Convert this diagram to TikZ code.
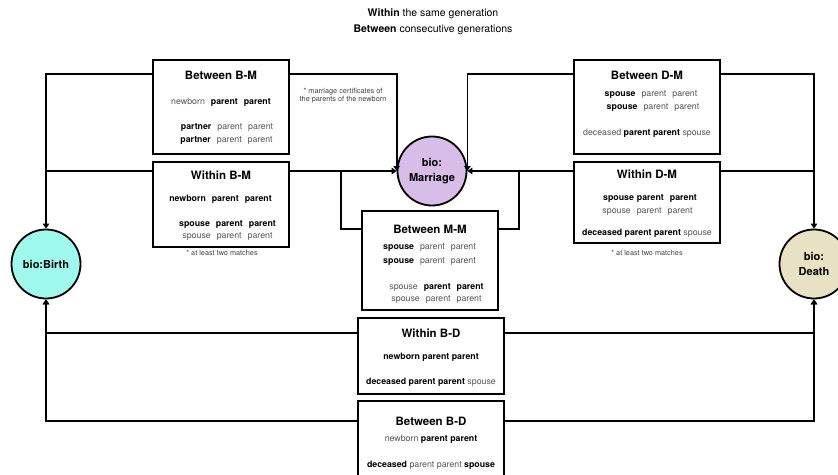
\documentclass[tikz,border=0pt]{standalone}
\usepackage{fontspec}
\setmainfont{TeX Gyre Heros}
\usetikzlibrary{arrows.meta,calc}
\definecolor{gtext}{HTML}{555555}
\definecolor{birthc}{HTML}{9EF8EC}
\definecolor{marrc}{HTML}{D8BDE8}
\definecolor{deathc}{HTML}{E8E1C4}
\newcommand\bw[1]{\textbf{#1}}
\newcommand\gw[1]{\textcolor{gtext}{#1}}
\newcommand\gp{\hspace{6pt}}
\tikzset{
  box/.style={draw, line width=1.8pt, inner sep=0pt, fill=white},
  circ/.style={circle, draw, line width=1.8pt, minimum size=69pt, inner sep=0pt, align=center, font=\fontsize{11}{15}\selectfont\bfseries},
  ttl/.style={inner sep=0pt, font=\fontsize{11.5}{13}\selectfont\bfseries},
  txt/.style={inner sep=0pt, font=\fontsize{8.8}{10}\selectfont},
  note/.style={inner sep=0pt, font=\fontsize{7.3}{8.5}\selectfont, text=black!75, align=center},
  head/.style={inner sep=0pt, font=\fontsize{10.5}{12}\selectfont},
  conn/.style={line width=1.8pt},
  arr/.style={conn, -{Triangle[width=6.5pt,length=5pt]}}
}
\begin{document}
\begin{tikzpicture}[x=1pt,y=-1pt]
\useasboundingbox (0,0) rectangle (838,474);
\fill[white] (0,0) rectangle (838,474);

% heading
\node[head] (h1) at (433,14) {\bw{Within} the same generation};
\node[head] (h2) at (433,30) {\bw{Between} consecutive generations};

% circles
\node[circ, fill=birthc] (Birth) at (46,264) {bio:Birth};
\node[circ, fill=marrc] (Marr) at (432,171) {bio:\\Marriage};
\node[circ, fill=deathc] (Death) at (814,264) {bio:\\Death};

% boxes
\node[box, minimum width=136pt, minimum height=94pt] (BBM) at (221,107) {};
\node[box, minimum width=136pt, minimum height=85pt] (WBM) at (221,204.5) {};
\node[box, minimum width=146pt, minimum height=94pt] (BDM) at (647,107) {};
\node[box, minimum width=146pt, minimum height=81pt] (WDM) at (647,202.5) {};
\node[box, minimum width=136pt, minimum height=99pt] (MM) at (430,260.5) {};
\node[box, minimum width=146pt, minimum height=76pt] (WBD) at (431,356) {};
\node[box, minimum width=146pt, minimum height=80pt] (BBD) at (431,441) {};

% junction coordinates
\coordinate (jL) at (341,171);
\coordinate (jR) at (519,171);

% connectors
\draw[arr] (BBM.west |- 0,74) -| (Birth.north);
\draw[conn] (WBM.west |- 0,171) -- (Birth.north |- 0,171);
\draw[arr] (BBM.east |- 0,74) -| (Marr.west);
\draw[arr] (WBM.east |- 0,171) -- (Marr.west);
\draw[conn] (MM.west |- 0,229) -| (jL);
\draw[conn] (MM.east |- 0,229) -| (jR);
\draw[arr] (BDM.west |- 0,74) -| (Marr.east);
\draw[arr] (WDM.west |- 0,171) -- (Marr.east);
\draw[arr] (BDM.east |- 0,74) -| (Death.north);
\draw[conn] (WDM.east |- 0,171) -- (Death.north |- 0,171);
\draw[arr] (WBD.west |- 0,333) -| (Birth.south);
\draw[arr] (BBD.west |- 0,421) -| (Birth.south);
\draw[arr] (WBD.east |- 0,333) -| (Death.south);
\draw[arr] (BBD.east |- 0,421) -| (Death.south);

% Between B-M
\node[ttl] (t1) at (221,75) {Between B-M};
\node[txt] (t1a) at (221,102) {\gw{newborn}\gp\bw{parent}\gp\bw{parent}};
\node[txt] (t1b) at (227,127) {\bw{partner}\gp\gw{parent}\gp\gw{parent}};
\node[txt] (t1c) at (226.5,140) {\bw{partner}\gp\gw{parent}\gp\gw{parent}};
\node[note] (n1) at (343,96) {* marriage certificates of\\[-0.5pt]the parents of the newborn};

% Within B-M
\node[ttl] (t2) at (221,175) {Within B-M};
\node[txt] (t2a) at (220.5,199) {\bw{newborn}\gp\bw{parent}\gp\bw{parent}};
\node[txt] (t2b) at (227.5,224) {\bw{spouse}\gp\bw{parent}\gp\bw{parent}};
\node[txt] (t2c) at (227.5,237) {\gw{spouse}\gp\gw{parent}\gp\gw{parent}};
\node[note] (n2) at (222,253) {* at least two matches};

% Between D-M
\node[ttl] (t3) at (647,75) {Between D-M};
\node[txt] (t3a) at (651,95) {\bw{spouse}\gp\gw{parent}\gp\gw{parent}};
\node[txt] (t3b) at (653,108) {\bw{spouse}\gp\gw{parent}\gp\gw{parent}};
\node[txt] (t3c) at (647,133) {\gw{deceased} \bw{parent parent} \gw{spouse}};

% Within D-M
\node[ttl] (t4) at (647,174) {Within D-M};
\node[txt] (t4a) at (650,198) {\bw{spouse}\hspace{3pt}\bw{parent}\gp\bw{parent}};
\node[txt] (t4b) at (647.5,212) {\gw{spouse}\gp\gw{parent}\gp\gw{parent}};
\node[txt] (t4c) at (647,233) {\bw{deceased parent parent} \gw{spouse}};
\node[note] (n3) at (647,253) {* at least two matches};

% Between M-M
\node[ttl] (t5) at (430,229) {Between M-M};
\node[txt] (t5a) at (429.5,248) {\bw{spouse}\gp\gw{parent}\gp\gw{parent}};
\node[txt] (t5b) at (429.5,262) {\bw{spouse}\gp\gw{parent}\gp\gw{parent}};
\node[txt] (t5c) at (436.5,287) {\gw{spouse}\gp\bw{parent}\gp\bw{parent}};
\node[txt] (t5d) at (436.5,300) {\gw{spouse}\gp\gw{parent}\gp\gw{parent}};

% Within B-D
\node[ttl] (t6) at (431,333) {Within B-D};
\node[txt] (t6a) at (431,357) {\bw{newborn parent parent}};
\node[txt] (t6b) at (431,382) {\bw{deceased parent parent} \gw{spouse}};

% Between B-D
\node[ttl] (t7) at (431,421) {Between B-D};
\node[txt] (t7a) at (431,439) {\gw{newborn} \bw{parent parent}};
\node[txt] (t7b) at (431,465) {\bw{deceased} \gw{parent parent} \bw{spouse}};
\end{tikzpicture}
\end{document}
